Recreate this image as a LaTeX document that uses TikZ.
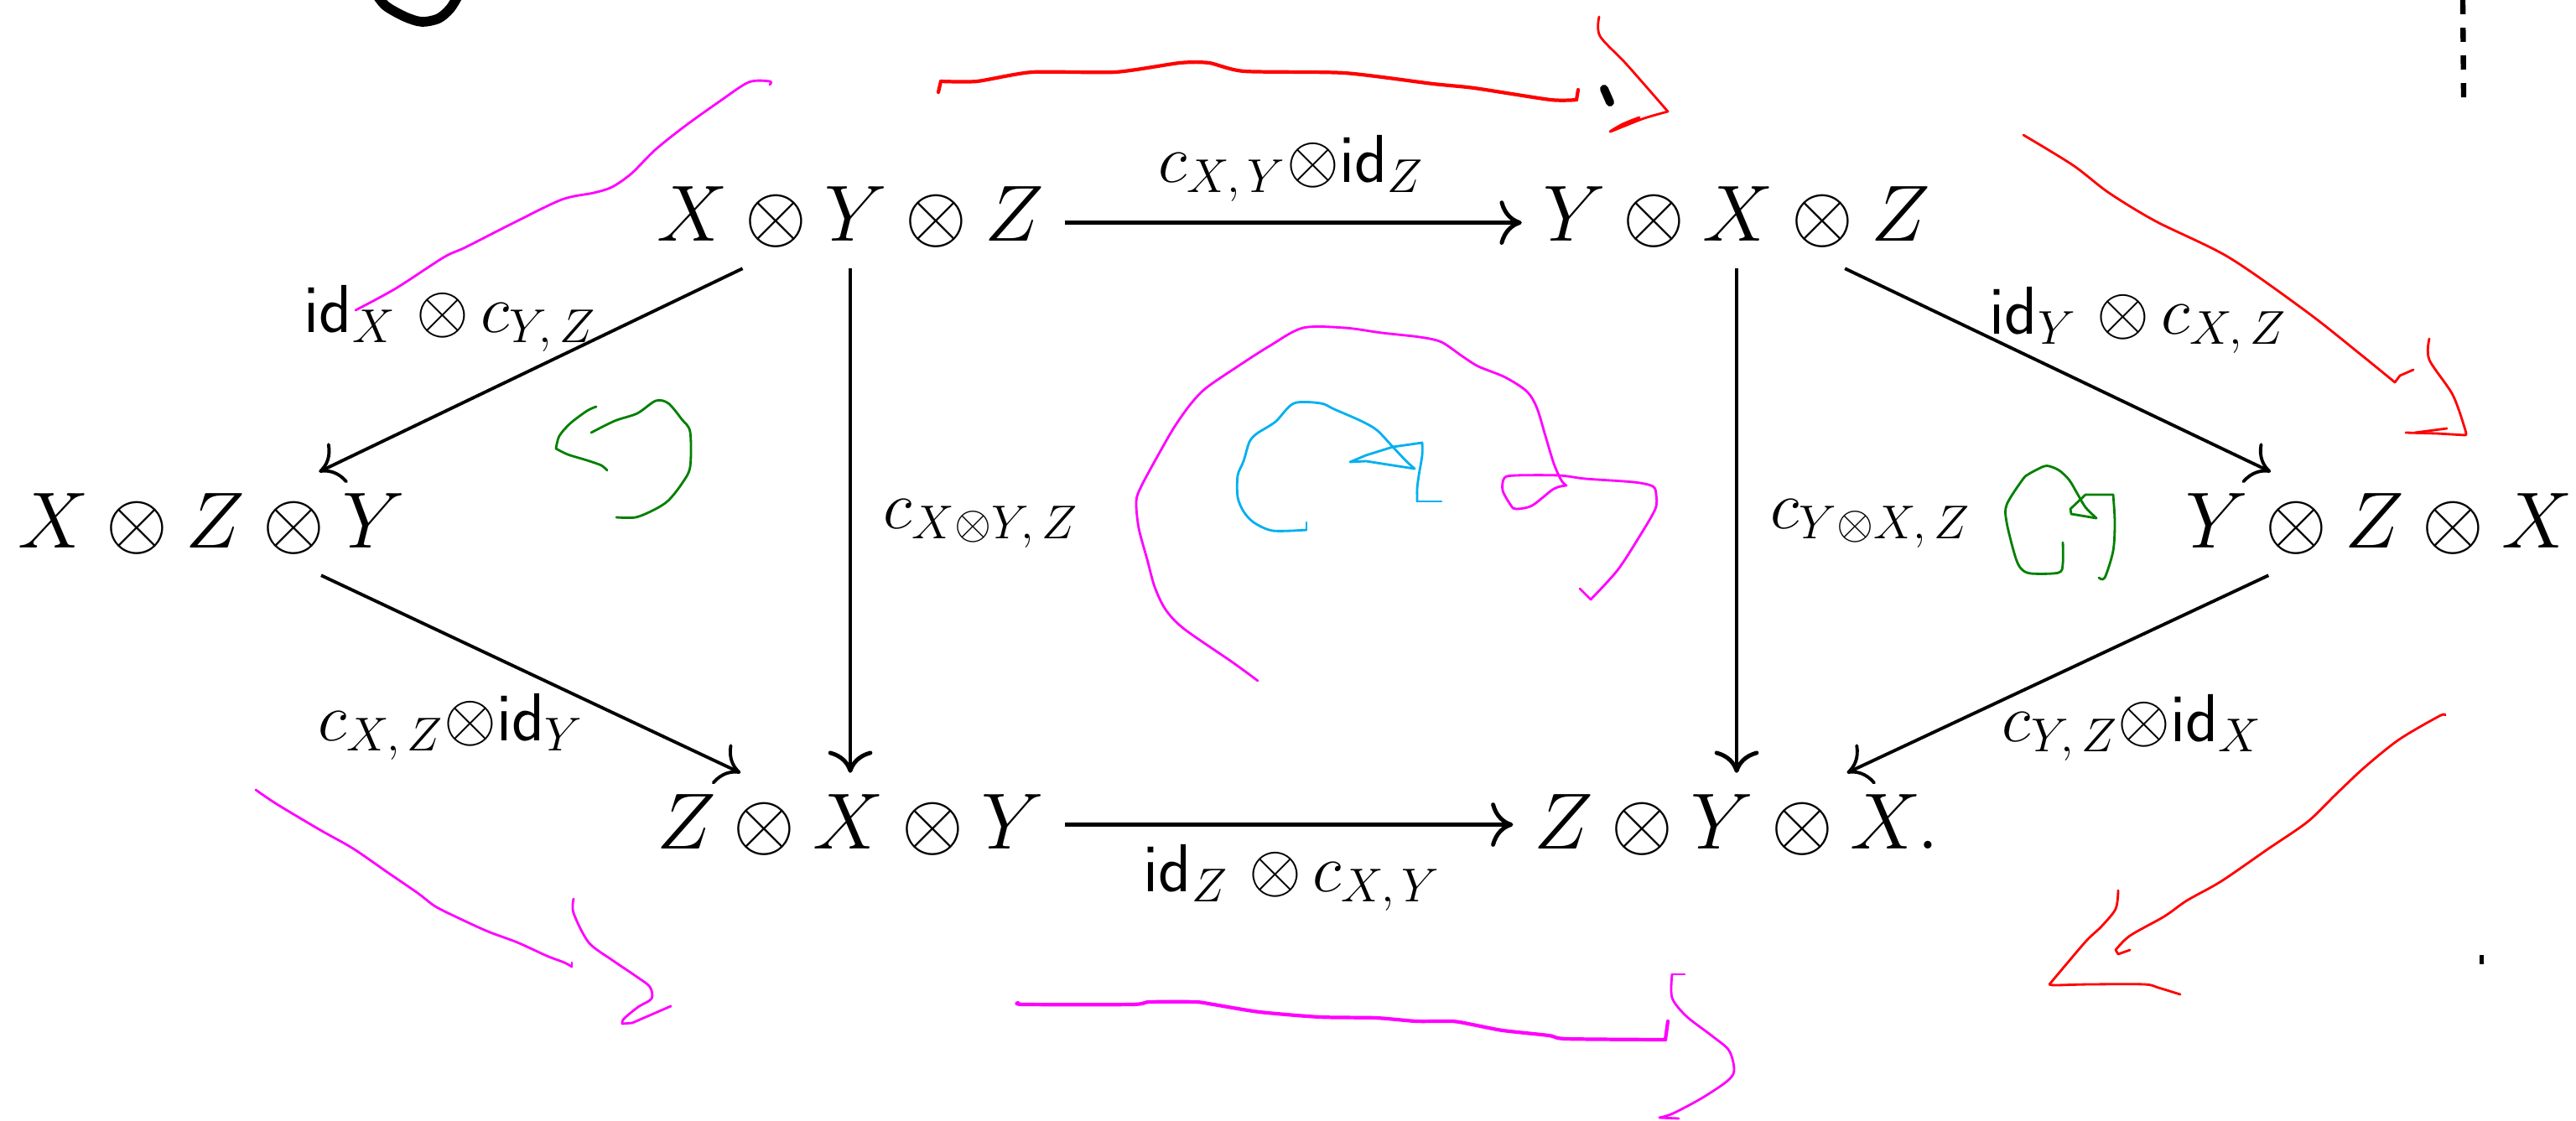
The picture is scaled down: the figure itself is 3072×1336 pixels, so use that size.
\RequirePackage{fix-cm}
\documentclass[tikz,border=0pt]{standalone}
\usetikzlibrary{arrows.meta}
\definecolor{pmag}{RGB}{255,0,255}
\definecolor{pred}{RGB}{255,0,0}
\definecolor{pcyan}{RGB}{0,176,240}
\definecolor{pgreen}{RGB}{0,128,0}
\begin{document}
\begin{tikzpicture}[x=0.01cm,y=-0.01cm,
  obj/.style={inner sep=7pt, font=\fontsize{27}{33}\selectfont},
  lab/.style={inner sep=0pt, font=\fontsize{23}{28}\selectfont},
  arr/.style={line width=1.4pt, -{Computer Modern Rightarrow[length=7.5pt,width=15pt]}},
  darr/.style={line width=1.1pt, -{Computer Modern Rightarrow[length=7.5pt,width=15pt]}},
  ink/.style={line cap=round, line join=round},
  mag/.style={ink, draw=pmag, line width=0.8pt},
  magb/.style={ink, draw=pmag, line width=1.2pt},
  redl/.style={ink, draw=pred, line width=0.8pt},
  redb/.style={ink, draw=pred, line width=1.2pt},
  cyanl/.style={ink, draw=pcyan, line width=0.8pt},
  greenl/.style={ink, draw=pgreen, line width=0.8pt},
  blk/.style={ink, draw=black, line width=3.3pt}
]
\fill[white] (0,0) rectangle (3072,1336);
\useasboundingbox (0,0) rectangle (3072,1336);

% objects
\node[obj, anchor=base] (XYZ) at (1014,287) {$X\otimes Y\otimes Z$};
\node[obj, anchor=base] (YXZ) at (2071,287) {$Y\otimes X\otimes Z$};
\node[obj, anchor=base] (XZY) at (252,653) {$X\otimes Z\otimes Y$};
\node[obj, anchor=base] (YZX) at (2837,653) {$Y\otimes Z\otimes X$};
\node[obj, anchor=base] (ZXY) at (1014,1012) {$Z\otimes X\otimes Y$};
\node[obj, anchor=base] (ZYX) at (2071,1012) {$Z\otimes Y\otimes X.$};

% morphisms
\draw[arr] ([yshift=-2pt]XYZ.east) -- ([yshift=-2pt]YXZ.west);
\draw[arr] (ZXY.east) -- (ZYX.west);
\draw[arr] (XYZ.south) -- (ZXY.north);
\draw[arr] (YXZ.south) -- (ZYX.north);
\draw[darr] (XYZ) -- (XZY);
\draw[darr] (XZY) -- (ZXY);
\draw[darr] (YXZ) -- (YZX);
\draw[darr] (YZX) -- (ZYX);

% labels
\node[lab, anchor=base] (l1) at (1540,217) {$c_{X,\,Y}{\otimes}\mathsf{id}_Z$};
\node[lab, anchor=base] (l2) at (1541,1063) {$\mathsf{id}_Z\ {\otimes}\,c_{X,\,Y}$};
\node[lab, anchor=base] (l3) at (537,396) {$\mathsf{id}_X\ {\otimes}\,c_{Y,\,Z}$};
\node[lab, anchor=base] (l4) at (538,883) {$c_{X,\,Z}{\otimes}\mathsf{id}_Y$};
\node[lab, anchor=base] (l5) at (2550,398) {$\mathsf{id}_Y\ {\otimes}\,c_{X,\,Z}$};
\node[lab, anchor=base] (l6) at (2543,884) {$c_{Y,\,Z}{\otimes}\mathsf{id}_X$};
\node[lab, anchor=base] (l7) at (1170,630) {$c_{X\otimes Y,\,Z}$};
\node[lab, anchor=base] (l8) at (2231,630) {$c_{Y\otimes X,\,Z}$};

% black marks
\draw[blk] plot[smooth, tension=0.5] coordinates {(448,-8) (460,7) (483,20) (503,26) (523,22) (537,10) (548,-8)};
\draw[ink, line width=2.8pt] (1913,106) -- (1920,122);
\draw[line width=1.8pt, dash pattern=on 4.8pt off 4.6pt] (2937,0) -- (2938,120);
\fill (2957,1139) rectangle (2962,1150);

% magenta top-left
\draw[mag] plot[smooth, tension=0.5] coordinates {(424,370) (472,344) (529,307) (555,295) (612,266) (670,238) (708,230) (730,223) (753,207) (781,179) (816,151) (858,121) (893,98) (918,97) (918,101)};

% red top
\draw[redb] plot[smooth, tension=0.4] coordinates {(1122,97) (1165,97) (1231,86) (1330,86) (1407,75) (1442,75) (1484,85) (1603,87) (1709,100) (1758,105) (1849,119) (1880,119)};
\draw[redb] (1119,110) -- (1122,97);
\draw[redb] (1880,119) -- (1882,107);
\draw[redl] plot[smooth, tension=0.5] coordinates {(1907,20) (1908,43) (1940,77) (1989,133)};
\draw[redl] plot[smooth, tension=0.5] coordinates {(1989,133) (1961,141) (1933,152) (1920,157) (1935,148) (1955,140)};

% red top-right
\draw[redl] plot[smooth, tension=0.5] coordinates {(2413,161) (2472,197) (2515,230) (2571,264) (2658,307) (2751,372) (2813,421) (2856,456)};
\draw[redl] (2856,456) -- (2862,448) -- (2878,441);
\draw[redl] plot[smooth, tension=0.5] coordinates {(2897,404) (2897,429) (2925,471) (2940,513) (2940,519)};
\draw[redl] (2940,519) -- (2906,517) -- (2869,516);
\draw[redl] (2880,516) -- (2918,511);

% green left
\draw[greenl] plot[smooth, tension=0.5] coordinates {(705,516) (733,502) (760,493) (782,478) (797,481) (813,500) (823,515) (823,557) (813,577) (797,597) (780,608) (758,617) (735,617)};
\draw[greenl] plot[smooth, tension=0.5] coordinates {(711,485) (700,490) (680,505) (667,520) (663,535)};
\draw[greenl] plot[smooth, tension=0.5] coordinates {(663,535) (677,542) (700,549) (717,555) (724,561)};

% green right
\draw[greenl] plot[smooth, tension=0.5] coordinates {(2460,647) (2460,672) (2455,683) (2422,684) (2410,678) (2403,663) (2393,623) (2393,602) (2412,572) (2420,565) (2438,556) (2447,557) (2457,562) (2468,573) (2478,590) (2487,605) (2500,618)};
\draw[greenl] (2500,618) -- (2470,613) -- (2469,607) -- (2487,590) -- (2520,590);
\draw[greenl] plot[smooth, tension=0.5] coordinates {(2520,590) (2522,623) (2520,657) (2510,689) (2503,689)};

% magenta big loop
\draw[mag] plot[smooth, tension=0.5] coordinates {(1500,812) (1470,790) (1412,750) (1390,727) (1377,700) (1368,667) (1358,630) (1355,598) (1361,580) (1381,543) (1400,510) (1419,483) (1438,463) (1476,437) (1515,412) (1554,391) (1604,391) (1648,397) (1693,402) (1719,408) (1744,425) (1763,437) (1795,450) (1821,467) (1833,487) (1843,520) (1853,553) (1862,573) (1868,579)};
\draw[mag] plot[smooth, tension=0.5] coordinates {(1868,579) (1853,583) (1827,603) (1808,607) (1802,603) (1792,585) (1794,570) (1808,567) (1859,567) (1891,571) (1948,575) (1971,580) (1975,590) (1974,607) (1955,640) (1929,680) (1897,715)};
\draw[mag] (1897,715) -- (1884,702);

% cyan
\draw[cyanl] (1558,623) -- (1558,632);
\draw[cyanl] plot[smooth, tension=0.5] coordinates {(1558,632) (1518,633) (1495,623) (1483,610) (1476,593) (1476,567) (1483,550) (1490,527) (1499,517) (1521,503) (1543,481) (1575,481) (1591,488) (1623,502) (1642,513) (1661,533) (1677,550) (1687,559)};
\draw[cyanl] (1687,559) -- (1661,555) -- (1629,550) -- (1610,551) -- (1629,543) -- (1661,533) -- (1696,528);
\draw[cyanl] plot[smooth, tension=0.5] coordinates {(1696,528) (1696,543) (1692,567) (1690,583) (1690,598)};
\draw[cyanl] (1690,598) -- (1719,598);

% magenta bottom-left
\draw[mag] plot[smooth, tension=0.5] coordinates {(305,942) (330,959) (382,990) (421,1012) (463,1041) (498,1065) (519,1081) (547,1095) (582,1111) (617,1124) (652,1140) (673,1148) (682,1153)};
\draw[mag] (682,1153) -- (682,1148);
\draw[mag] plot[smooth, tension=0.5] coordinates {(684,1072) (684,1089) (702,1124) (730,1145) (758,1164) (775,1177) (777,1191) (761,1201) (744,1215) (742,1221)};
\draw[mag] (742,1221) -- (754,1220) -- (800,1200);

% magenta bottom
\draw[magb] plot[smooth, tension=0.4] coordinates {(1214,1196) (1222,1198) (1350,1198) (1371,1195) (1426,1195) (1447,1198) (1502,1207) (1574,1213) (1641,1214) (1689,1218) (1732,1218) (1756,1222) (1792,1229) (1847,1235) (1868,1239) (1986,1240)};
\draw[magb] (1986,1240) -- (1989,1218);
\draw[mag] (2009,1162) -- (1994,1162);
\draw[mag] plot[smooth, tension=0.5] coordinates {(1994,1162) (1994,1190) (2011,1212) (2041,1235) (2062,1253) (2068,1277) (2059,1290) (2029,1310) (1995,1328) (1979,1333)};
\draw[mag] (1979,1333) -- (2002,1334);

% red bottom-right
\draw[redl] plot[smooth, tension=0.5] coordinates {(2916,853) (2909,854) (2861,882) (2820,915) (2786,947) (2752,980) (2704,1013) (2649,1051) (2608,1074) (2581,1093) (2540,1116) (2523,1133)};
\draw[redl] (2523,1133) -- (2526,1138) -- (2540,1133);
\draw[redl] plot[smooth, tension=0.5] coordinates {(2526,1062) (2523,1084) (2506,1105) (2489,1121) (2465,1149) (2444,1174)};
\draw[redl] plot[smooth, tension=0.5] coordinates {(2444,1174) (2451,1175) (2492,1174) (2557,1174) (2574,1178) (2600,1186)};
\end{tikzpicture}
\end{document}
